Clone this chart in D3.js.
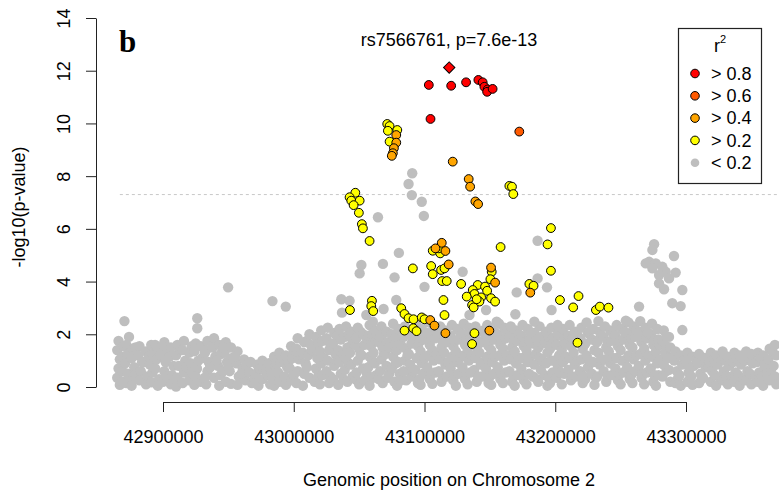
<!DOCTYPE html>
<html>
<head>
<meta charset="utf-8">
<script src="https://cdn.jsdelivr.net/npm/d3@7"></script>
<style>
body { margin: 0; background: #fff; }
text { font-family: "Liberation Sans", Arial, sans-serif; }
</style>
</head>
<body>
<div id="chart"></div>
<script>

// positions are kb on chromosome 2, values are -log10(p)
var leadSnp = [[43118.9, 12.12]];

var r2_08 = [
  [43103.3, 11.46], [43120.4, 11.43], [43131.8, 11.56], [43141.2, 11.65], [43144.5, 11.56],
  [43145.8, 11.39], [43148.3, 11.29], [43147.9, 11.20], [43152.1, 11.31], [43104.6, 10.17]
];

var r2_06 = [[43172.5, 9.69]];

var r2_04 = [
  [43121.6, 8.55], [43133.8, 7.89], [43134.9, 7.60], [43138.9, 7.04], [43141.0, 6.94],
  [43078.4, 9.56], [43078.4, 9.27], [43076.6, 9.06], [43075.8, 8.87], [43075.0, 8.77],
  [43113.2, 5.47], [43108.4, 5.26], [43116.0, 5.16], [43118.5, 4.65], [43150.9, 4.53],
  [43154.0, 3.96], [43180.9, 3.58], [43104.4, 2.54], [43107.6, 2.33], [43116.0, 2.04],
  [43149.6, 2.14]
];

var r2_02 = [
  [43071.5, 9.98], [43073.3, 9.90], [43072.0, 9.72], [43079.2, 9.75], [43073.3, 9.31],
  [43047.1, 7.37], [43042.7, 7.20], [43044.0, 7.07], [43050.4, 7.07], [43045.8, 6.90],
  [43049.8, 6.61], [43052.1, 6.18], [43052.9, 6.02], [43058.0, 5.54],
  [43091.1, 4.50], [43105.1, 4.59], [43106.3, 4.28], [43113.5, 4.02], [43117.0, 4.02],
  [43112.7, 4.44], [43115.3, 4.50], [43106.3, 5.17], [43112.0, 5.07], [43110.9, 5.26],
  [43128.0, 3.91], [43114.5, 3.30], [43115.3, 2.73], [43138.2, 2.04], [43136.4, 1.63],
  [43158.2, 5.31], [43196.7, 6.03], [43194.1, 5.41], [43196.7, 4.41], [43203.6, 3.30],
  [43151.4, 4.37], [43150.4, 4.09], [43140.7, 3.87], [43146.3, 3.81], [43136.9, 3.68],
  [43147.9, 3.65], [43138.2, 3.53], [43143.3, 3.40], [43132.3, 3.43], [43150.9, 3.37],
  [43154.0, 3.24], [43142.0, 3.24], [43136.4, 3.11], [43137.6, 3.02], [43139.9, 3.33],
  [43180.2, 3.91], [43183.4, 3.84], [43217.8, 3.45], [43213.7, 3.02], [43231.1, 2.92],
  [43234.1, 3.05], [43240.7, 3.01], [43217.0, 1.68],
  [43164.9, 7.63], [43166.9, 7.60], [43167.9, 7.32],
  [43043.0, 2.92], [43059.8, 3.27], [43059.3, 3.07], [43060.8, 2.88],
  [43082.2, 2.99], [43084.7, 2.77], [43087.8, 2.61], [43091.6, 2.57], [43097.9, 2.64],
  [43100.0, 2.57], [43084.7, 2.14], [43091.4, 2.23], [43093.9, 2.12]
];

var r2_low = [
  [42866,1.75],[42865,1.4],[42867,1.05],[42866,0.7],[42865,0.35],[42867,0.08],
  [42870.5,2.5],[42870,1.55],[42869,0.2],[42869,1.15],[42869,0.6],
  [42872,1.6],[42873,1.25],[42871,0.9],[42873,0.5],[42872,0.15],[42874,1.9],
  [42877,1.45],[42876,1.1],[42878,0.75],[42877,0.3],[42876,0.05],[42879,1.5],[42879,0.5],
  [42882,1.55],[42881,1.2],[42883,0.6],[42882,0.25],[42884,0.95],
  [42887,1.35],[42886,0.95],[42888,0.4],[42887,0.1],[42889,1.15],
  [42891,1.6],[42892,1.25],[42890,0.85],[42892,0.55],[42891,0.18],[42894,1.6],[42894,0.7],
  [42896,1.45],[42895,1.05],[42897,0.3],[42896,0.05],[42898,1.2],
  [42901,1.7],[42900,1.3],[42902,0.95],[42901,0.6],[42900,0.2],[42903,1.5],[42903,0.4],
  [42906,1.5],[42905,1.15],[42907,0.45],[42906,0.1],[42908,0.8],
  [42911,1.6],[42910,1.2],[42912,0.8],[42911,0.35],[42910,0.02],[42913,1.4],
  [42916,1.75],[42915,1.4],[42917,1.0],[42916,0.55],[42915,0.15],[42918,0.75],
  [42920,1.3],[42921,0.9],[42920,0.25],[42922,1.55],[42922,0.55],
  [42925,1.65],[42924,1.35],[42926,0.7],[42925,0.4],[42924,0.08],[42927,1.0],
  [42926.2,2.61],[42926.2,2.23],[42929,1.55],[42930,1.1],[42929,0.2],
  [42934,1.75],[42933,1.4],[42935,0.95],[42934,0.6],[42933,0.1],[42932,1.3],[42932,0.35],
  [42939,1.85],[42938,1.5],[42940,1.15],[42939,0.35],[42936,0.75],
  [42943,1.6],[42944,1.25],[42942,0.8],[42944,0.45],[42943,0.05],[42941,1.0],
  [42948,1.7],[42947,1.3],[42949,0.95],[42948,0.2],[42946,1.5],[42946,0.6],
  [42949.8,3.78],[42952,1.5],[42953,1.1],[42951,0.6],[42952,0.12],[42950,0.85],
  [42957,1.35],[42956,0.9],[42958,0.4],[42957,0.08],[42955,1.15],
  [42962,1.05],[42961,0.7],[42963,0.25],[42960,0.5],[42964,0.85],
  [42967,0.95],[42966,0.55],[42968,0.15],[42970,0.3],
  [42972,0.85],[42971,0.5],[42973,0.05],[42974,0.7],
  [42976,1.0],[42977,0.65],[42976,0.3],[42979,0.6],
  [42981,0.9],[42980,0.45],[42982,0.1],[42983,0.55],
  [42983.7,3.26],[42985,1.15],[42986,0.8],[42984,0.35],[42985,0.05],[42987,0.9],
  [42989,1.3],[42990,0.95],[42988,0.55],[42989,0.2],[42991,1.1],
  [42993.9,3.05],[42994,1.2],[42995,0.75],[42993,0.4],[42994,0.08],[42996,0.95],
  [42998,1.55],[42999,1.1],[42997,0.7],[42998,0.25],[43000,1.4],[43000,0.45],
  [43003,1.85],[43002,1.45],[43004,1.05],[43003,0.6],[43002,0.15],[43005,1.25],
  [43008,1.7],[43007,1.3],[43009,0.9],[43008,0.5],[43007,0.05],[43010,1.75],[43010,0.75],
  [43012,2.0],[43013,1.6],[43011,1.2],[43012,0.35],[43014,1.4],
  [43017,1.9],[43016,1.5],[43018,1.1],[43017,0.7],[43016,0.2],[43019,0.45],[43019,1.65],
  [43021,2.15],[43022,1.75],[43020,1.35],[43021,0.9],[43022,0.45],[43020,0.1],[43023,1.1],
  [43026,2.25],[43025,1.85],[43027,1.4],[43026,1.0],[43025,0.6],[43027,0.15],[43028,1.6],[43028,0.4],
  [43031,2.05],[43030,1.65],[43032,1.25],[43031,0.8],[43030,0.3],[43033,1.95],[43033,1.0],
  [43035,2.2],[43036,1.8],[43034,1.4],[43035,0.95],[43036,0.5],[43034,0.08],[43038,1.25],[43038,0.3],
  [43040,2.3],[43039,1.9],[43041,1.5],[43040,1.1],[43039,0.65],[43041,0.2],[43042,2.0],[43042,0.9],
  [43044,2.1],[43045,1.7],[43043,1.3],[43044,0.85],[43045,0.4],[43047,1.6],[43047,0.3],
  [43049,2.25],[43048,1.85],[43050,1.45],[43049,1.0],[43048,0.55],[43050,0.1],[43051,2.1],[43051,1.25],
  [43053,2.0],[43054,1.6],[43052,1.2],[43053,0.7],[43054,0.25],[43056,1.8],[43056,0.5],
  [43058,2.35],[43057,1.95],[43059,1.55],[43058,1.15],[43057,0.75],[43059,0.3],[43058,0.05],
  [43060,2.0],[43060,1.0],
  [43062,2.15],[43063,1.75],[43061,1.3],[43062,0.9],[43063,0.45],[43065,1.7],[43065,0.3],
  [43067,2.3],[43066,1.9],[43068,1.5],[43067,1.05],[43066,0.6],[43068,0.15],[43069,2.05],[43069,1.25],
  [43071,2.1],[43072,1.7],[43070,1.25],[43071,0.8],[43072,0.35],[43073,1.5],[43073,0.5],
  [43076,2.4],[43075,2.0],[43077,1.6],[43076,1.15],[43075,0.7],[43077,0.2],[43078,1.85],[43078,0.9],
  [43080,2.2],[43081,1.8],[43079,1.4],[43080,0.95],[43081,0.5],[43079,0.05],[43082,1.6],[43082,0.25],
  [43085,2.3],[43084,1.9],[43086,1.45],[43085,1.0],[43084,0.6],[43086,0.25],[43087,2.1],[43087,1.2],
  [43089,2.1],[43090,1.65],[43088,1.25],[43089,0.85],[43090,0.4],[43091,1.85],[43091,0.6],
  [43094,2.35],[43093,1.95],[43095,1.55],[43094,1.1],[43093,0.65],[43095,0.15],[43096,1.7],[43096,0.3],
  [43098,2.2],[43099,1.8],[43097,1.35],[43098,0.9],[43099,0.5],[43097,0.08],[43100,2.05],[43100,1.1],
  [43103,2.45],[43102,2.05],[43104,1.6],[43103,1.2],[43102,0.75],[43104,0.3],[43105,1.8],[43105,0.5],
  [43107,2.25],[43108,1.85],[43106,1.4],[43107,1.0],[43108,0.55],[43106,0.12],[43109,2.1],[43109,1.25],
  [43112,2.3],[43111,1.9],[43113,1.5],[43112,1.05],[43111,0.6],[43113,0.2],[43114,1.7],[43114,0.35],
  [43116,2.15],[43117,1.7],[43115,1.3],[43116,0.85],[43117,0.4],[43118,2.0],[43118,0.95],
  [43121,2.35],[43120,1.95],[43122,1.55],[43121,1.15],[43120,0.7],[43122,0.25],[43123,1.75],[43123,0.45],
  [43125,2.2],[43126,1.8],[43124,1.35],[43125,0.95],[43126,0.5],[43124,0.05],[43127,2.1],[43127,1.1],
  [43130,2.4],[43129,2.0],[43131,1.6],[43130,1.2],[43129,0.75],[43131,0.3],[43132,1.8],[43132,0.5],
  [43134,2.25],[43135,1.85],[43133,1.45],[43134,1.0],[43135,0.55],[43133,0.1],[43136,2.05],[43136,1.2],
  [43139,2.3],[43138,1.9],[43140,1.5],[43139,1.1],[43138,0.65],[43140,0.2],[43141,1.75],[43141,0.4],
  [43143,2.1],[43144,1.7],[43142,1.3],[43143,0.85],[43144,0.4],[43145,2.15],[43145,0.95],
  [43148,2.35],[43147,1.95],[43149,1.55],[43148,1.15],[43147,0.7],[43149,0.15],[43150,1.8],[43150,0.4],
  [43152,2.2],[43153,1.8],[43151,1.4],[43152,0.95],[43153,0.5],[43151,0.08],[43154,2.05],[43154,1.15],
  [43157,2.4],[43156,2.0],[43158,1.6],[43157,1.2],[43156,0.75],[43158,0.3],[43159,1.75],[43159,0.5],
  [43161,2.25],[43162,1.85],[43160,1.45],[43161,1.0],[43162,0.55],[43160,0.15],[43163,2.1],[43163,1.2],
  [43166,2.3],[43165,1.9],[43167,1.5],[43166,1.05],[43165,0.6],[43167,0.2],[43168,1.75],[43168,0.4],
  [43170,2.15],[43171,1.75],[43169,1.35],[43170,0.9],[43171,0.45],[43169,0.05],[43172,2.0],[43172,1.1],
  [43175,2.35],[43174,1.95],[43176,1.55],[43175,1.1],[43174,0.7],[43176,0.25],[43177,1.7],[43177,0.45],
  [43179,2.2],[43180,1.8],[43178,1.4],[43179,0.95],[43180,0.5],[43178,0.1],[43181,2.05],[43181,1.15],
  [43184,2.05],[43183,1.65],[43185,1.25],[43184,0.85],[43183,0.4],[43186,1.8],[43186,0.3],
  [43188,2.3],[43189,1.9],[43187,1.5],[43188,1.1],[43189,0.65],[43187,0.2],[43190,1.65],[43190,1.0],
  [43193,2.1],[43192,1.7],[43194,1.3],[43193,0.9],[43192,0.45],[43194,0.05],[43195,1.9],[43195,0.35],
  [43197,2.25],[43198,1.85],[43196,1.45],[43197,1.0],[43198,0.55],[43196,0.15],[43199,1.7],[43199,1.0],
  [43202,2.0],[43201,1.6],[43203,1.2],[43202,0.8],[43201,0.35],[43204,1.95],[43204,0.55],
  [43206,2.2],[43207,1.8],[43205,1.4],[43206,0.95],[43207,0.5],[43205,0.1],[43208,1.65],[43208,1.15],
  [43211,2.35],[43210,1.95],[43212,1.55],[43211,1.1],[43210,0.65],[43212,0.25],[43213,1.85],[43213,0.4],
  [43215,2.1],[43216,1.7],[43214,1.3],[43215,0.85],[43216,0.4],[43217,1.95],[43217,1.0],
  [43220,2.25],[43219,1.85],[43221,1.45],[43220,1.05],[43219,0.6],[43221,0.15],[43222,1.6],[43222,0.4],
  [43224,2.45],[43225,2.05],[43223,1.65],[43224,1.2],[43225,0.75],[43223,0.3],[43226,2.1],[43226,1.0],
  [43229,2.2],[43228,1.8],[43230,1.4],[43229,0.95],[43228,0.5],[43230,0.08],[43231,1.75],[43231,0.35],
  [43233,2.5],[43234,2.1],[43232,1.7],[43233,1.3],[43234,0.85],[43232,0.4],[43235,1.95],[43235,1.05],
  [43238,2.3],[43237,1.9],[43239,1.5],[43238,1.05],[43237,0.6],[43239,0.2],[43240,1.7],[43240,0.4],
  [43242,2.15],[43243,1.75],[43241,1.35],[43242,0.9],[43243,0.45],[43244,2.05],[43244,1.1],
  [43247,2.35],[43246,1.95],[43248,1.55],[43247,1.1],[43246,0.7],[43248,0.25],[43249,1.75],[43249,0.5],
  [43251,2.2],[43252,1.8],[43250,1.4],[43251,1.0],[43252,0.55],[43250,0.1],[43253,2.1],[43253,1.0],
  [43256,2.45],[43255,2.05],[43257,1.6],[43256,1.2],[43255,0.75],[43257,0.3],[43258,1.85],[43258,0.45],
  [43260,2.3],[43261,1.9],[43259,1.5],[43260,1.05],[43261,0.6],[43259,0.15],[43262,2.15],[43262,1.2],
  [43265,2.5],[43264,2.1],[43266,1.7],[43265,1.25],[43264,0.8],[43266,0.35],[43267,1.9],[43267,0.5],
  [43269,2.25],[43270,1.85],[43268,1.45],[43269,1.0],[43270,0.55],[43268,0.1],[43271,2.05],[43271,1.2],
  [43274,2.4],[43273,2.0],[43275,1.6],[43274,1.15],[43273,0.7],[43275,0.2],[43276,1.8],[43276,0.45],
  [43278,2.2],[43279,1.8],[43277,1.35],[43278,0.9],[43279,0.45],[43277,0.05],[43280,1.6],[43280,1.05],
  [43283,2.15],[43282,1.75],[43284,1.3],[43283,0.85],[43282,0.4],[43285,1.55],[43285,0.6],
  [43287,1.9],[43288,1.5],[43286,1.1],[43287,0.65],[43288,0.2],[43290,1.15],
  [43292,1.35],[43291,1.0],[43293,0.6],[43292,0.15],[43294,0.35],
  [43296,1.2],[43297,0.85],[43295,0.45],[43296,0.05],[43299,1.05],
  [43301,1.3],[43300,0.95],[43302,0.55],[43301,0.2],[43303,0.7],
  [43305,1.15],[43306,0.8],[43304,0.4],[43305,0.08],[43308,1.05],
  [43310,1.25],[43309,0.9],[43311,0.5],[43310,0.15],[43312,0.3],
  [43314,1.1],[43315,0.75],[43313,0.35],[43317,0.8],
  [43319,1.3],[43318,0.95],[43320,0.6],[43319,0.2],[43321,1.05],
  [43323,1.2],[43324,0.85],[43322,0.45],[43323,0.05],[43326,0.35],
  [43328,1.35],[43327,1.0],[43329,0.6],[43328,0.25],[43330,1.0],
  [43332,1.15],[43333,0.8],[43331,0.4],[43332,0.1],[43335,0.4],
  [43337,1.3],[43336,0.95],[43338,0.55],[43337,0.2],[43339,1.05],
  [43341,1.2],[43342,0.85],[43340,0.45],[43341,0.05],[43344,0.3],
  [43346,1.35],[43345,1.0],[43347,0.6],[43346,0.25],[43348,1.1],
  [43350,1.25],[43351,0.9],[43349,0.5],[43350,0.1],[43353,0.4],
  [43355,1.3],[43354,0.95],[43356,0.55],[43355,0.2],[43357,1.1],
  [43359,1.2],[43360,0.8],[43358,0.4],[43359,0.05],[43362,0.5],
  [43364,1.45],[43363,1.05],[43365,0.65],[43364,0.25],[43366,1.35],
  [43368,1.6],[43369,1.2],[43367,0.8],[43368,0.4],[43369,0.1],
  // scattered points above the main band
  [43036.4,3.33],[43042.7,3.27],[43036.9,2.82],[43055.5,2.73],[43060.5,2.48],
  [43068.7,2.96],[43078.4,3.30],[43051.7,4.63],[43050.4,4.31],[43068.2,4.67],
  [43077.1,4.16],[43080.4,5.09],[43100.0,3.80],[43090.6,8.11],[43087.8,7.70],
  [43090.3,7.28],[43097.9,7.03],[43099.5,6.49],[43064.4,6.44],
  [43186.5,5.55],[43129.2,4.37],[43170.5,3.59],[43193.7,3.78],[43186.5,4.12],
  [43197.2,2.92],[43155.2,2.48],[43134.4,2.73],[43147.1,2.92],[43254.0,2.52],
  [43264.1,3.05],[43289.5,3.18],[43295.9,3.07],[43297.2,2.16],[43285.0,1.91],
  [43184.0,2.48],[43169.5,2.76],[43201.8,2.35],
  [43275.6,5.42],[43274.3,5.20],[43271.8,4.75],[43276.9,4.69],[43281.9,4.56],
  [43284.5,4.37],[43279.4,4.25],[43290.8,4.97],[43292.1,4.34],[43287.0,4.12],
  [43279.4,3.93],[43283.2,3.71],[43297.2,3.68],[43269.2,4.69],[43274.3,4.50]
];

var xTicks = [42900000, 43000000, 43100000, 43200000, 43300000];
var yTicks = [0, 2, 4, 6, 8, 10, 12, 14];
var legendLabels = ["> 0.8", "> 0.6", "> 0.4", "> 0.2", "< 0.2"];

var width = 779, height = 497;
var colors = ["#ff0000", "#ff5a00", "#ffa500", "#ffff00", "#bebebe"];

var svg = d3.select("#chart").append("svg")
    .attr("width", width)
    .attr("height", height)
    .style("display", "block");

svg.append("rect").attr("width", width).attr("height", height).attr("fill", "#fff");

var x = d3.scaleLinear().domain([42900000, 43300000]).range([163, 686]);
var y = d3.scaleLinear().domain([0, 14]).range([387, 18]);

function px(d) { return x(d[0] * 1000); }
function py(d) { return y(d[1]); }

// genome-wide significance line
var minPos = d3.min(r2_low, function(d) { return d[0]; });
svg.append("line")
    .attr("x1", px([minPos + 2]))
    .attr("x2", width)
    .attr("y1", y(-Math.log10(5e-8)))
    .attr("y2", y(-Math.log10(5e-8)))
    .attr("stroke", "#c8c8c8")
    .attr("stroke-width", 1)
    .attr("stroke-dasharray", "3,3");

// background snps
svg.append("g").selectAll("circle")
    .data(r2_low)
  .join("circle")
    .attr("cx", px)
    .attr("cy", py)
    .attr("r", 5.2)
    .attr("fill", colors[4]);

var groups = [[r2_02, colors[3]], [r2_04, colors[2]], [r2_06, colors[1]], [r2_08, colors[0]]];
groups.forEach(function(g) {
  svg.append("g").selectAll("circle")
      .data(g[0])
    .join("circle")
      .attr("cx", px)
      .attr("cy", py)
      .attr("r", 4.4)
      .attr("fill", g[1])
      .attr("stroke", "#000")
      .attr("stroke-width", 1);
});

svg.append("g").selectAll("path")
    .data(leadSnp)
  .join("path")
    .attr("d", d3.symbol(d3.symbolSquare, 64))
    .attr("transform", function(d) { return "translate(" + px(d) + "," + py(d) + ") rotate(45)"; })
    .attr("fill", colors[0])
    .attr("stroke", "#000")
    .attr("stroke-width", 1);

// axes
var yAxis = svg.append("g")
    .attr("transform", "translate(96,0)")
    .call(d3.axisLeft(y).tickValues(yTicks).tickSize(10).tickSizeOuter(0));
yAxis.selectAll(".tick text")
    .attr("transform", "rotate(-90)")
    .attr("x", 0)
    .attr("y", -26)
    .attr("dy", 0)
    .attr("text-anchor", "middle");

var xAxis = svg.append("g")
    .attr("transform", "translate(0,402)")
    .call(d3.axisBottom(x).tickValues(xTicks).tickSize(10).tickSizeOuter(0).tickFormat(d3.format("d")));
xAxis.selectAll(".tick text").attr("y", 28);

[yAxis, xAxis].forEach(function(a) {
  a.selectAll("text").style("font-size", "18px").attr("fill", "#000")
      .style("font-family", "'Liberation Sans', Arial, sans-serif");
  a.selectAll("path, line").attr("stroke", "#222");
});

// labels
svg.append("text")
    .attr("transform", "translate(25,207) rotate(-90)")
    .attr("text-anchor", "middle")
    .style("font-size", "18px")
    .text("-log10(p-value)");

svg.append("text")
    .attr("x", 449).attr("y", 486)
    .attr("text-anchor", "middle")
    .style("font-size", "18px")
    .text("Genomic position on Chromosome 2");

svg.append("text")
    .attr("x", 449).attr("y", 46)
    .attr("text-anchor", "middle")
    .style("font-size", "18px")
    .text("rs7566761, p=7.6e-13");

svg.append("text")
    .attr("x", 119).attr("y", 52)
    .style("font-family", "'Liberation Serif', 'Times New Roman', serif")
    .style("font-weight", "bold")
    .style("font-size", "31px")
    .text("b");

// legend
var legend = svg.append("g");
legend.append("rect")
    .attr("x", 678.5).attr("y", 28.5)
    .attr("width", 83).attr("height", 155)
    .attr("fill", "#fff")
    .attr("stroke", "#222")
    .attr("stroke-width", 1.2);

var lt = legend.append("text")
    .attr("x", 720).attr("y", 52)
    .attr("text-anchor", "middle")
    .style("font-size", "18px");
lt.append("tspan").text("r");
lt.append("tspan").attr("dy", -9).style("font-size", "11px").text("2");

var items = legend.selectAll("g.item")
    .data(legendLabels)
  .join("g")
    .attr("class", "item")
    .attr("transform", function(d, i) { return "translate(0," + (73.5 + i * 22.3) + ")"; });

items.append("circle")
    .attr("cx", 695)
    .attr("r", 4.3)
    .attr("fill", function(d, i) { return colors[i]; })
    .attr("stroke", function(d, i) { return i < 4 ? "#000" : "none"; })
    .attr("stroke-width", 1);

items.append("text")
    .attr("x", 711)
    .attr("dy", "0.35em")
    .style("font-size", "18px")
    .text(function(d) { return d; });

</script>
</body>
</html>
